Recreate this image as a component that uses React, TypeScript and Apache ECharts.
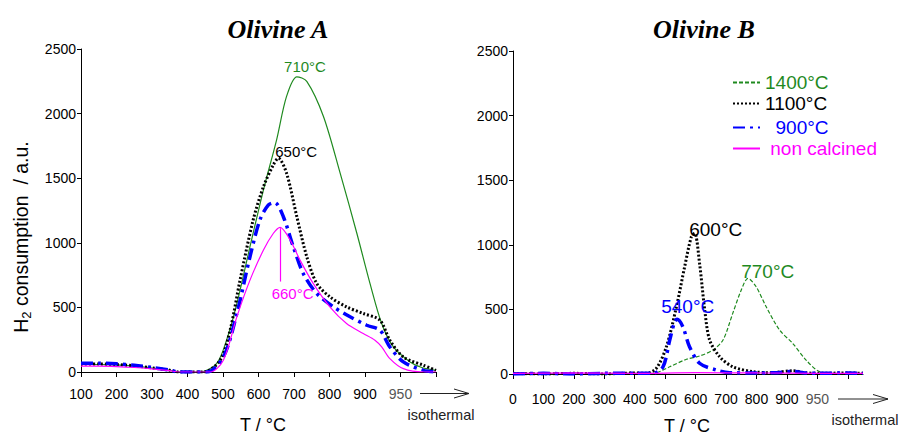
import React, { useEffect, useRef } from "react";
import * as echarts from "echarts";

// ---------- tick labels ----------
const X_LABELS_A = ["100", "200", "300", "400", "500", "600", "700", "800", "900", "950"];
const X_LABELS_B = ["0", "100", "200", "300", "400", "500", "600", "700", "800", "900", "950"];
const Y_MAX = 2500;
const Y_STEP = 500;

// ---------- Olivine A (x in axis units: tick index) ----------
const A_1400_X = [0, 0.5, 1, 1.5, 2, 2.5, 2.8, 3.35, 3.82, 4.1, 4.39, 4.76, 5.14, 5.51, 5.79, 6.08, 6.36, 6.83, 7.3, 7.77, 8.14, 8.47, 8.8, 9.27, 9.6, 10];
const A_1400_Y = [58, 58, 55, 45, 30, 12, 0, 0, 65, 246, 530, 970, 1410, 1797, 2133, 2285, 2250, 1978, 1539, 1074, 686, 375, 194, 78, 35, 13];

const A_1100_X = [0, 0.5, 1, 1.5, 2, 2.5, 2.75, 3.45, 3.92, 4.2, 4.48, 4.85, 5.14, 5.42, 5.56, 5.79, 6.08, 6.36, 6.64, 7.01, 7.48, 7.95, 8.42, 8.7, 9.08, 9.65, 10];
const A_1100_Y = [62, 62, 58, 48, 32, 14, 0, 0, 91, 324, 711, 1177, 1435, 1604, 1655, 1539, 1202, 892, 686, 582, 504, 453, 401, 246, 116, 52, 13];

const A_900_X = [0, 0.5, 1, 1.5, 2, 2.5, 2.75, 3.54, 4.01, 4.39, 4.76, 5.04, 5.28, 5.46, 5.7, 5.98, 6.26, 6.64, 7.11, 7.58, 8.05, 8.42, 8.7, 9.08, 9.65, 10];
const A_900_Y = [68, 68, 63, 52, 35, 15, 0, 0, 116, 453, 892, 1177, 1293, 1311, 1202, 970, 763, 608, 504, 427, 362, 324, 194, 78, 13, 0];

const A_NC_X = [0, 0.5, 1, 1.5, 2, 2.5, 2.75, 3.63, 4.01, 4.39, 4.76, 5.14, 5.42, 5.61, 5.89, 6.17, 6.54, 7.01, 7.48, 7.95, 8.28, 8.47, 8.7, 9.08, 9.65, 10];
const A_NC_Y = [45, 45, 42, 35, 24, 10, 0, 0, 91, 427, 711, 944, 1074, 1120, 1022, 866, 686, 504, 375, 298, 246, 194, 104, 26, 0, 0];

// ---------- Olivine B ----------
const B_1400_X = [0, 1, 2, 3, 4, 4.6, 5.15, 5.7, 6.13, 6.57, 6.9, 7.22, 7.5, 7.72, 7.99, 8.32, 8.76, 9.19, 9.63, 10.07, 10.6, 11.5];
const B_1400_Y = [10, 0, 8, 0, 5, 5, 56, 114, 139, 186, 263, 469, 650, 740, 675, 520, 340, 237, 108, 18, 5, 0];

const B_1100_X = [0, 1, 2, 3, 4, 4.38, 4.71, 5.04, 5.37, 5.64, 5.86, 5.97, 6.13, 6.3, 6.46, 6.79, 7.22, 7.88, 8.5, 9.2, 9.6, 10, 11, 11.5];
const B_1100_Y = [5, 0, 5, 0, 8, 5, 44, 211, 520, 830, 1062, 1088, 856, 495, 263, 134, 56, 18, 10, 25, 10, 5, 8, 5];

const B_900_X = [0, 1, 2, 3, 4, 4.6, 4.93, 5.15, 5.31, 5.39, 5.58, 5.8, 6.13, 6.68, 7.12, 8, 8.6, 9.2, 9.6, 10, 11, 11.5];
const B_900_Y = [0, 5, 0, 5, 5, 5, 56, 263, 404, 423, 366, 211, 83, 31, 10, 8, 10, 20, 8, 5, 8, 5];

const B_NC_X = [0, 2, 4, 6, 8, 10, 11.5];
const B_NC_Y = [5, 8, 5, 10, 8, 5, 5];

// ---------- peak annotations ----------
const A_PEAKS = [
  { x: 6.31, y: 2364, text: "710°C", key: "1400" },
  { x: 6.06, y: 1704, text: "650°C", key: "1100" },
  { x: 5.96, y: 610, text: "660°C", key: "nc" },
];
const A_NC_PEAK_LINE = { x: 5.61, y1: 1113, y2: 700 };
const B_PEAKS = [
  { x: 6.66, y: 1121, text: "600°C", key: "1100" },
  { x: 8.37, y: 791, text: "770°C", key: "1400" },
  { x: 5.74, y: 520, text: "540°C", key: "900" },
];

const NAMES = { "1400": "1400°C", "1100": "1100°C", "900": "900°C", nc: "non calcined" };
const COLORS = { "1400": "#1f8a1f", "1100": "#000000", "900": "#0000ff", nc: "#ff00ff" };
const FONT = "'Liberation Sans', Arial, sans-serif";
const SERIF = "'Liberation Serif', 'Times New Roman', serif";

const zip = (xs: number[], ys: number[]) => xs.map((x, i) => [x, ys[i]]);

export default function App() {
  const ref = useRef<HTMLDivElement>(null);
  useEffect(() => {
    if (!ref.current) return;
    const chart = echarts.init(ref.current, undefined, { renderer: "svg" });

    const xLabelColor = (labels: string[]) => (v: any) =>
      labels[Math.round(Number(v))] === "950" ? "#555555" : "#000000";

    const mkX = (idx: number, max: number, labels: string[], margin: number, ticks: number[]) => ({
      type: "value",
      gridIndex: idx,
      min: 0,
      max,
      interval: 1,
      axisLine: { lineStyle: { color: "#000", width: 1 } },
      axisTick: { show: true, length: 5, customValues: ticks, lineStyle: { color: "#000" } },
      axisLabel: {
        customValues: ticks,
        formatter: (v: number) => labels[Math.round(v)] ?? "",
        fontSize: 14,
        fontFamily: FONT,
        margin,
        color: xLabelColor(labels),
      },
      splitLine: { show: false },
    });
    const mkY = (idx: number) => ({
      type: "value",
      gridIndex: idx,
      min: 0,
      max: Y_MAX,
      interval: Y_STEP,
      axisLine: { show: true, lineStyle: { color: "#000", width: 1 } },
      axisTick: { show: true, length: 4, lineStyle: { color: "#000" } },
      axisLabel: { fontSize: 14, fontFamily: FONT, color: "#000", margin: 5, formatter: (v: number) => String(v) },
      splitLine: { show: false },
    });

    const peakMark = (p: any) => ({
      symbol: "circle",
      symbolSize: 0,
      silent: true,
      data: [
        {
          coord: [p.x, p.y],
          label: {
            show: true,
            position: "inside",
            formatter: p.text,
            color: (COLORS as any)[p.key],
            fontSize: p.size,
            fontFamily: FONT,
          },
        },
      ],
    });

    const line = (name: string, data: number[][], idx: number, color: string, ls: any, extra: any = {}) => ({
      type: "line",
      name,
      xAxisIndex: idx,
      yAxisIndex: idx,
      data,
      symbol: "none",
      smooth: 0.3,
      lineStyle: { color, ...ls },
      itemStyle: { color },
      ...extra,
    });

    const marksFor = (peaks: any[], key: string, size: number) => {
      const p = peaks.find((q) => q.key === key);
      return p ? peakMark({ ...p, size }) : undefined;
    };

    const series: any[] = [
      // Olivine B (first, so legend icons follow these styles)
      line(NAMES["1400"], zip(B_1400_X, B_1400_Y), 1, COLORS["1400"], { width: 1.2, type: [4, 2] }, { markPoint: marksFor(B_PEAKS, "1400", 19) }),
      line(NAMES["1100"], zip(B_1100_X, B_1100_Y), 1, COLORS["1100"], { width: 3, type: [2, 2], cap: "butt" }, { markPoint: marksFor(B_PEAKS, "1100", 19) }),
      line(NAMES["900"], zip(B_900_X, B_900_Y), 1, COLORS["900"], { width: 3.5, type: [12, 5, 3, 5], cap: "butt" }, { markPoint: marksFor(B_PEAKS, "900", 19) }),
      line(NAMES.nc, zip(B_NC_X, B_NC_Y), 1, COLORS.nc, { width: 1.2 }),
      // Olivine A
      line(NAMES["1400"], zip(A_1400_X, A_1400_Y), 0, COLORS["1400"], { width: 1.2 }, { markPoint: marksFor(A_PEAKS, "1400", 15) }),
      line(NAMES["1100"], zip(A_1100_X, A_1100_Y), 0, COLORS["1100"], { width: 3, type: [2, 2], cap: "butt" }, { markPoint: marksFor(A_PEAKS, "1100", 15) }),
      line(NAMES["900"], zip(A_900_X, A_900_Y), 0, COLORS["900"], { width: 3.5, type: [12, 5, 3, 5], cap: "butt" }),
      line(NAMES.nc, zip(A_NC_X, A_NC_Y), 0, COLORS.nc, { width: 1.2 }, {
        markPoint: marksFor(A_PEAKS, "nc", 15),
        markLine: {
          symbol: "none",
          silent: true,
          label: { show: false },
          lineStyle: { color: COLORS.nc, width: 1.2, type: "solid" },
          data: [[{ coord: [A_NC_PEAK_LINE.x, A_NC_PEAK_LINE.y1] }, { coord: [A_NC_PEAK_LINE.x, A_NC_PEAK_LINE.y2] }]],
        },
      }),
    ];

    const legendRow = (key: string, top: number, pad: string) => ({
      data: [(NAMES as any)[key]],
      left: 732,
      top,
      padding: 0,
      itemWidth: 27,
      itemHeight: 14,
      selectedMode: false,
      itemStyle: { opacity: 0 },
      formatter: (n: string) => pad + n,
      textStyle: { color: (COLORS as any)[key], fontSize: 19, fontFamily: FONT },
    });

    const arrow = (x1: number, x2: number, y: number) => [
      { type: "line", shape: { x1, y1: y, x2, y2: y }, style: { stroke: "#222", lineWidth: 1 } },
      {
        type: "polyline",
        shape: { points: [[x2 - 15, y - 4.5], [x2, y], [x2 - 15, y + 4.5]] },
        style: { stroke: "#222", lineWidth: 1, fill: "none" },
      },
    ];
    const txt = (text: string, x: number, y: number, fontSize: number, extra: any = {}) => ({
      type: "text",
      x,
      y,
      style: { text, fontSize, fontFamily: FONT, fill: "#000", align: "center", verticalAlign: "middle", ...extra },
    });

    chart.setOption({
      animation: false,
      backgroundColor: "#ffffff",
      grid: [
        { left: 81, right: 468, top: 49, bottom: 64 },
        { left: 513, right: 41, top: 51, bottom: 62 },
      ],
      xAxis: [
        mkX(0, 10, X_LABELS_A, 15, [0, 1, 2, 3, 4, 5, 6, 7, 8, 9, 10]),
        mkX(1, 11.5, X_LABELS_B, 18, [0, 1, 2, 3, 4, 5, 6, 7, 8, 9, 10, 11]),
      ],
      yAxis: [mkY(0), mkY(1)],
      legend: [
        legendRow("1400", 73, ""),
        legendRow("1100", 94, ""),
        legendRow("900", 118, "  "),
        legendRow("nc", 139, " "),
      ],
      series,
      graphic: [
        txt("Olivine A", 278, 29, 26, { fontFamily: SERIF, fontStyle: "italic", fontWeight: "bold" }),
        txt("Olivine B", 704, 29, 26, { fontFamily: SERIF, fontStyle: "italic", fontWeight: "bold" }),
        {
          type: "text",
          x: 21,
          y: 237,
          rotation: Math.PI / 2,
          style: {
            text: "{a|H}{s|2}{a| consumption  / a.u.}",
            align: "center",
            verticalAlign: "middle",
            fill: "#000",
            fontSize: 19.5,
            fontFamily: FONT,
            rich: {
              a: { fontSize: 19.5, lineHeight: 23, fontFamily: FONT, fill: "#000" },
              s: { fontSize: 13, lineHeight: 13, fontFamily: FONT, fill: "#000", verticalAlign: "bottom" },
            },
          },
        },
        txt("T / °C", 263, 425, 18),
        txt("T / °C", 687, 426, 18),
        txt("isothermal", 441, 415, 14.5, { fill: "#222" }),
        txt("isothermal", 865, 420, 14.5, { fill: "#222" }),
        ...arrow(420, 469, 393.5),
        ...arrow(838, 888, 399),
      ],
    });
    return () => chart.dispose();
  }, []);
  return <div ref={ref} style={{ width: 904, height: 436, position: "absolute", left: 0, top: 0 }} />;
}
